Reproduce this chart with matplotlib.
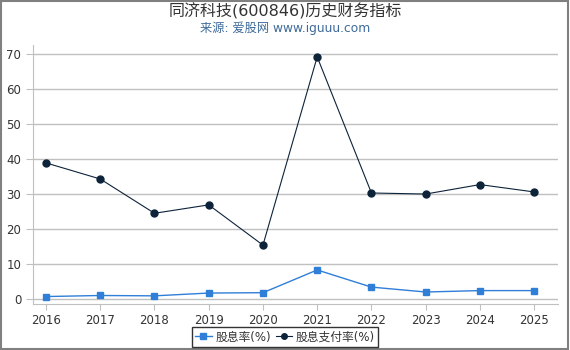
import matplotlib
matplotlib.use("Agg")
import matplotlib.pyplot as plt
from matplotlib.patches import Rectangle

plt.rcParams['font.family'] = ['DejaVu Sans', 'Noto Sans CJK SC']

years = [2016, 2017, 2018, 2019, 2020, 2021, 2022, 2023, 2024, 2025]
dividend_yield = [0.7, 1.0, 0.9, 1.7, 1.8, 8.3, 3.4, 2.0, 2.4, 2.4]
payout_ratio = [38.9, 34.3, 24.5, 26.9, 15.4, 69.2, 30.3, 30.0, 32.7, 30.6]
yticks = [0, 10, 20, 30, 40, 50, 60, 70]

title = "同济科技(600846)历史财务指标"
subtitle = "来源: 爱股网 www.iguuu.com"

fig = plt.figure(figsize=(5.7, 3.5), dpi=100)
ax = fig.add_axes([33/570, 46/350, (558-33)/570, (304-45)/350])

ax.plot(years, dividend_yield, color='#2f7ed8', lw=1, marker='s', ms=5,
        label='股息率(%)', zorder=3)
ax.plot(years, payout_ratio, color='#0d233a', lw=0.8, marker='o', ms=5,
        label='股息支付率(%)', zorder=3)

ax.set_xlim(2015.76, 2025.44)
ax.set_ylim(-1.43, 72.6)
ax.set_xticks(years)
ax.set_xticklabels([str(y) for y in years])
ax.set_yticks(yticks)
ax.grid(axis='y', color='#c0c0c0', lw=1)
ax.set_axisbelow(True)
for s in ['top', 'right']:
    ax.spines[s].set_visible(False)
ax.spines['left'].set_color('#c0c0c0')
ax.spines['bottom'].set_color('#c0c0c0')
ax.tick_params(axis='both', colors='#c0c0c0', labelcolor='#333333', labelsize=8.5, length=4)
ax.tick_params(axis='y', length=5)

fig.text(0.5, 1 - 11/350, title, ha='center', va='center', fontsize=11.5, color='#333333')
fig.text(0.5, 1 - 28/350, subtitle, ha='center', va='center', fontsize=8.8, color='#3d6a9a')

leg = fig.legend(loc='center', bbox_to_anchor=(285/570, 1 - 337/350), ncol=2,
                 fontsize=8.5, frameon=True, fancybox=False, edgecolor='black',
                 handlelength=1.4, handletextpad=0.3, columnspacing=0.4,
                 borderpad=0.3, markerscale=0.8)
leg.get_frame().set_linewidth(1)
for t in leg.get_texts():
    t.set_color('#333333')

fig.patches.append(Rectangle((0.5/570, 1.5/350), 567/570, 348/350, transform=fig.transFigure,
                             fill=False, edgecolor='#808080', lw=1.5))

fig.savefig('out.png', dpi=100)
